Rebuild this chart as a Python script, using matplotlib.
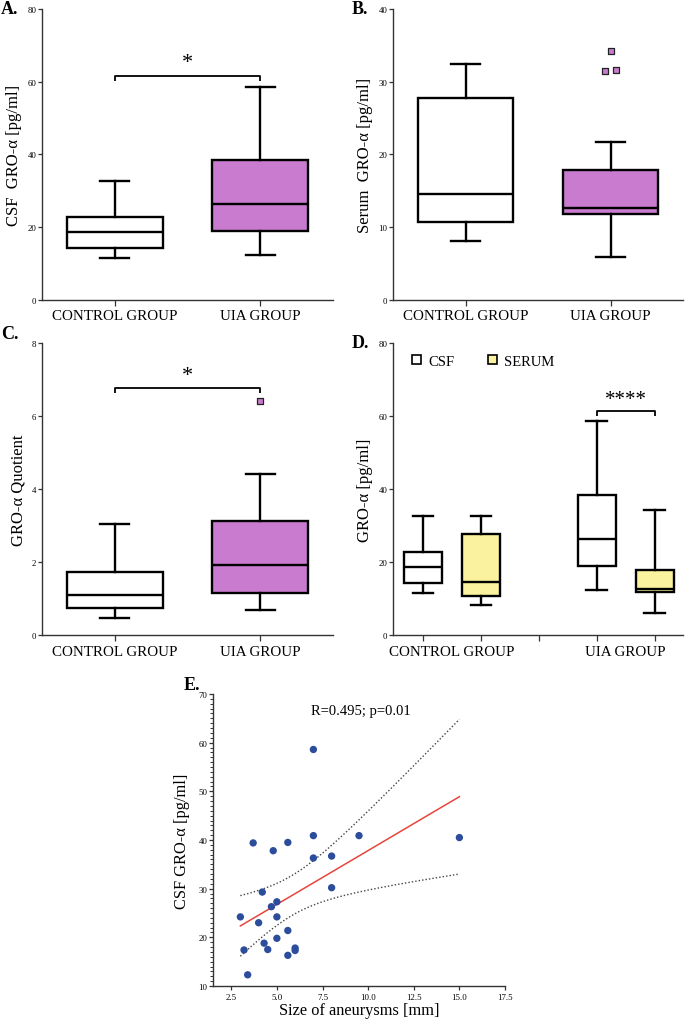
import numpy as np
import matplotlib
matplotlib.use("Agg")
import matplotlib.pyplot as plt
from matplotlib.patches import Patch

plt.rcParams['font.family'] = ['Liberation Serif', 'DejaVu Serif']
plt.rcParams['mathtext.fontset'] = 'stix'

# ---------------- data ----------------
groups = ["CONTROL GROUP", "UIA GROUP"]

# box stats: whislo, q1, med, q3, whishi
csf_control = [11.6, 14.3, 18.5, 22.7, 32.6]
csf_uia = [12.2, 18.8, 26.4, 38.4, 58.6]
serum_control = [8.1, 10.7, 14.5, 27.8, 32.5]
serum_uia = [5.9, 11.8, 12.6, 17.9, 21.7]
serum_uia_outliers = [34.2, 31.5, 31.6]
serum_uia_full_max = 34.2

quot_control = [0.47, 0.74, 1.09, 1.73, 3.05]
quot_uia = [0.68, 1.14, 1.91, 3.11, 4.42]
quot_uia_outliers = [6.42]

# scatter: size of aneurysms vs CSF GRO-a
size_mm = [3.0, 3.2, 3.4, 3.7, 4.0, 4.2, 4.3, 4.5, 4.7, 4.8, 5.0, 5.0, 5.0,
           5.6, 5.6, 5.6, 6.0, 6.0, 7.0, 7.0, 7.0, 8.0, 8.0, 9.5, 15.0]
csf_gro = [24.2, 17.4, 12.3, 39.4, 23.0, 29.3, 18.8, 17.5, 26.3, 37.8, 27.3, 24.2, 19.8,
           39.5, 21.4, 16.3, 17.8, 17.3, 58.6, 40.9, 36.3, 36.7, 30.2, 40.9, 40.5]
corr_text = "R=0.495; p=0.01"

PURPLE = "#C97BCF"
YELLOW = "#FAF29E"
BLUE = "#2C4C9C"
RED = "#E8453C"
SPINE = "#333333"

W, H = 685, 1020
fig = plt.figure(figsize=(W / 100, H / 100), dpi=100)


def ax_at(x0, y0, x1, y1):
    return fig.add_axes([x0 / W, 1 - y1 / H, (x1 - x0) / W, (y1 - y0) / H])


def stat(v, fliers=()):
    return dict(whislo=v[0], q1=v[1], med=v[2], q3=v[3], whishi=v[4], fliers=list(fliers))


def style_ax(ax):
    for s in ["top", "right"]:
        ax.spines[s].set_visible(False)
    for s in ["left", "bottom"]:
        ax.spines[s].set_color(SPINE)
        ax.spines[s].set_linewidth(1.0)
    ax.tick_params(axis='y', labelsize=6.3, length=3, width=0.9, color=SPINE, pad=1)
    ax.tick_params(axis='x', labelsize=10.8, length=4, width=0.9, color=SPINE, pad=3)


def draw_boxes(ax, stats, positions, colors, width, capw):
    lw = 1.7
    bp = ax.bxp(stats, positions=positions, widths=width, patch_artist=True,
                showfliers=False, capwidths=capw,
                boxprops=dict(linewidth=lw, edgecolor='black'),
                medianprops=dict(color='black', linewidth=lw),
                whiskerprops=dict(color='black', linewidth=lw),
                capprops=dict(color='black', linewidth=lw))
    for b, c in zip(bp['boxes'], colors):
        b.set_facecolor(c)
    return bp


def bracket(ax, x0, x1, y, drop, text, ty, fs=15):
    ax.plot([x0, x0, x1, x1], [y - drop, y, y, y - drop], color='black', lw=1.3,
            solid_capstyle='butt')
    ax.text((x0 + x1) / 2, ty, text, ha='center', va='center', fontsize=fs)


def letter(x, y, t):
    fig.text(x / W, 1 - y / H, t, fontsize=13, fontweight='bold', ha='left', va='center')


YL = 12

# ---------------- A ----------------
axA = ax_at(42, 10, 333, 300.7)
draw_boxes(axA, [stat(csf_control), stat(csf_uia)], [0, 1], ['white', PURPLE], 0.66, 0.2)
axA.set_xlim(-0.5, 1.5)
axA.set_ylim(0, 80)
axA.set_yticks([0, 20, 40, 60, 80])
axA.set_xticks([0, 1])
axA.set_xticklabels(groups)
axA.set_ylabel("CSF  GRO-α [pg/ml]", fontsize=YL, labelpad=4)
style_ax(axA)
bracket(axA, 0, 1, 61.6, 1.3, "*", 65.3, fs=16)
letter(1, 10, "A.")

# ---------------- B ----------------
axB = ax_at(393, 10, 683, 300.7)
draw_boxes(axB, [stat(serum_control), stat(serum_uia)], [0, 1], ['white', PURPLE], 0.66, 0.2)
out_dx = [0.0, -0.04, 0.04]
axB.scatter([1 + d for d in out_dx], serum_uia_outliers, marker='s', s=24,
            facecolor=PURPLE, edgecolor='#222222', linewidths=0.9, zorder=3)
axB.set_xlim(-0.5, 1.5)
axB.set_ylim(0, 40)
axB.set_yticks([0, 10, 20, 30, 40])
axB.set_xticks([0, 1])
axB.set_xticklabels(groups)
axB.set_ylabel("Serum  GRO-α [pg/ml]", fontsize=YL, labelpad=4)
style_ax(axB)
letter(352, 10, "B.")

# ---------------- C ----------------
axC = ax_at(42, 344, 333, 636)
draw_boxes(axC, [stat(quot_control), stat(quot_uia)], [0, 1], ['white', PURPLE], 0.66, 0.2)
axC.scatter([1], quot_uia_outliers, marker='s', s=24,
            facecolor=PURPLE, edgecolor='#222222', linewidths=0.9, zorder=3)
axC.set_xlim(-0.5, 1.5)
axC.set_ylim(0, 8)
axC.set_yticks([0, 2, 4, 6, 8])
axC.set_xticks([0, 1])
axC.set_xticklabels(groups)
axC.set_ylabel("GRO-α Quotient", fontsize=YL, labelpad=4)
style_ax(axC)
bracket(axC, 0, 1, 6.76, 0.12, "*", 7.12, fs=16)
letter(1, 335, "C.")

# ---------------- D ----------------
axD = ax_at(393, 344, 683, 636)
off = 0.167
posD = [0 - off, 0 + off, 1 - off, 1 + off]
statsD = [stat(csf_control), stat(serum_control), stat(csf_uia),
          stat(serum_uia[:4] + [serum_uia_full_max])]
draw_boxes(axD, statsD, posD, ['white', YELLOW, 'white', YELLOW], 0.218, 0.12)
axD.set_xlim(-0.34, 1.33)
axD.set_ylim(0, 80)
axD.set_yticks([0, 20, 40, 60, 80])
axD.set_xticks(posD + [0.5])
axD.set_xticklabels([''] * 5)
axD.set_xticks([0, 1], minor=True)
axD.set_xticklabels(groups, minor=True)
axD.set_ylabel("GRO-α [pg/ml]", fontsize=YL, labelpad=4)
style_ax(axD)
axD.tick_params(axis='x', which='minor', length=0, labelsize=10.8, pad=7)
bracket(axD, posD[2], posD[3], 61.3, 1.4, "****", 64.5, fs=15)
handles = [Patch(facecolor='white', edgecolor='black', linewidth=1.2, label='CSF'),
           Patch(facecolor=YELLOW, edgecolor='black', linewidth=1.2, label='SERUM')]
axD.legend(handles=handles, loc='center left', bbox_to_anchor=(0.065, 0.938), ncol=2,
           frameon=False, fontsize=10.5, handlelength=0.65, handleheight=0.65,
           handletextpad=0.45, columnspacing=2.3, borderpad=0, borderaxespad=0)
letter(352, 344, "D.")

# ---------------- E ----------------
axE = ax_at(213, 695, 505, 987)
x = np.array(size_mm)
y = np.array(csf_gro)
n = len(x)
slope, intercept = np.polyfit(x, y, 1)
xf = np.linspace(x.min(), x.max(), 200)
yf = intercept + slope * xf
resid = y - (intercept + slope * x)
s = np.sqrt(np.sum(resid ** 2) / (n - 2))
sxx = np.sum((x - x.mean()) ** 2)
tcrit = 2.069
se = s * np.sqrt(1 / n + (xf - x.mean()) ** 2 / sxx)
axE.plot(xf, yf + tcrit * se, color='#444444', lw=1.0, ls=(0, (1, 1.5)))
axE.plot(xf, yf - tcrit * se, color='#444444', lw=1.0, ls=(0, (1, 1.5)))
axE.plot(xf, yf, color=RED, lw=1.1)
axE.scatter(x, y, s=28, color=BLUE, zorder=3, edgecolor='none')
axE.set_xlim(1.5, 17.5)
axE.set_ylim(10, 70)
axE.set_xticks([2.5, 5.0, 7.5, 10.0, 12.5, 15.0, 17.5])
axE.set_xticklabels(["2.5", "5.0", "7.5", "10.0", "12.5", "15.0", "17.5"])
axE.set_yticks(range(10, 71, 10))
axE.set_yticks(range(10, 71, 1), minor=True)
style_ax(axE)
axE.tick_params(axis='x', labelsize=6.3, length=3, pad=2)
axE.tick_params(axis='y', which='minor', length=2, width=0.7, color=SPINE)
axE.set_xlabel("Size of aneurysms [mm]", fontsize=11.8, labelpad=1)
axE.set_ylabel("CSF GRO-α [pg/ml]", fontsize=11.8, labelpad=6)
axE.text(9.6, 66.6, corr_text, ha='center', va='center', fontsize=10.5)
letter(184, 686, "E.")

fig.savefig("out.png", dpi=100)
